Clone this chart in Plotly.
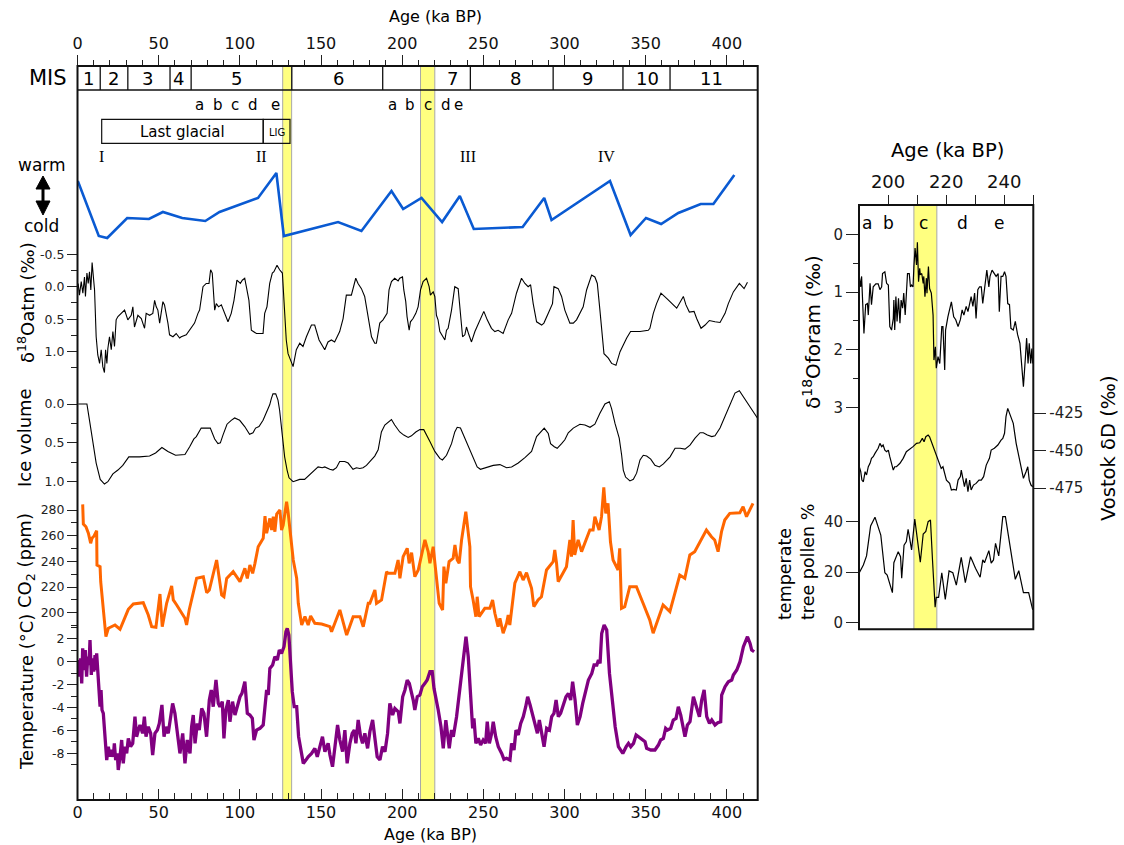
import plotly.graph_objects as go

# ---------------------------------------------------------------- data
# qualitative warm/cold index (no scale shown)
warm_age = [0.2, 13.1, 18.3, 30.6, 44.0, 52.6, 64.5, 78.7, 87.5, 111.2, 122.5, 127.1, 160.5, 174.9, 193.4,
            200.6, 211.9, 224.6, 235.5, 244.1, 274.2, 287.5, 292.0, 328.0, 340.7, 350.2, 359.5, 370.1,
            383.9, 391.7, 404.6]
warm_val = [5.9, 0.4, 0.2, 2.2, 2.1, 2.8, 2.2, 1.9, 2.8, 4.2, 6.7, 0.4, 1.8, 0.9, 4.9,
            3.1, 4.2, 1.8, 4.4, 1.1, 1.3, 4.2, 2.0, 5.9, 0.5, 2.2, 1.6, 2.7,
            3.6, 3.6, 6.5]

# d18O of atmospheric O2 (permil)
atm_age = [0.4, 1.2, 2.3, 3.3, 4.3, 4.9, 5.8, 6.6, 7.4, 8.2,
           9.0, 10.5, 11.5, 12.5, 13.6, 14.6, 15.6, 16.6, 17.3, 18.1,
           18.7, 19.7, 20.8, 21.8, 22.8, 23.8, 24.9, 26.9, 29.0, 31.0,
           33.1, 34.1, 35.1, 37.2, 39.3, 41.3, 42.3, 44.4, 46.4, 47.5,
           48.5, 49.5, 50.6, 52.6, 53.6, 55.7, 56.7, 58.8, 60.8, 62.9,
           63.9, 67.0, 70.1, 72.1, 74.2, 75.2, 77.3, 79.3, 81.0, 82.0,
           83.0, 84.5, 85.5, 86.9, 88.6, 90.6, 92.7, 94.7, 96.4, 98.2,
           100.3, 101.5, 103.0, 104.0, 105.6, 107.1, 110.2, 114.3, 115.3, 116.7,
           118.4, 120.0, 121.0, 122.9, 124.5, 126.2, 127.2, 128.6, 129.7, 131.1,
           132.8, 134.8, 136.9, 138.9, 141.0, 144.1, 146.1, 148.8, 152.3, 154.3,
           156.4, 158.4, 161.5, 163.6, 165.6, 168.7, 170.2, 171.4, 172.8, 174.9,
           176.9, 179.0, 181.1, 183.1, 184.1, 186.2, 188.2, 190.7, 191.9, 193.4,
           195.4, 197.5, 198.5, 200.2, 201.0, 202.2, 203.0, 204.3, 205.1, 206.7,
           208.4, 209.8, 211.3, 212.9, 215.0, 216.6, 217.4, 219.1, 220.1, 221.1,
           222.1, 223.2, 225.2, 226.3, 227.3, 228.3, 230.4, 232.4, 234.5, 235.5,
           237.2, 238.6, 239.6, 241.1, 242.7, 244.8, 247.8, 250.3, 252.4, 255.0,
           257.1, 259.1, 262.2, 265.3, 267.4, 270.4, 273.5, 275.6, 277.6, 279.1,
           280.7, 282.8, 285.9, 287.3, 290.0, 292.6, 293.5, 296.1, 298.2, 300.2,
           303.3, 305.4, 307.4, 311.5, 313.6, 316.7, 318.7, 320.2, 321.8, 322.9,
           324.3, 327.0, 329.0, 331.7, 334.2, 338.3, 340.7, 346.5, 351.6, 352.6,
           354.7, 356.7, 359.4, 362.9, 369.1, 373.2, 374.8, 376.9, 379.8, 381.4,
           384.1, 386.6, 389.2, 392.7, 395.8, 398.9, 400.9, 404.0, 407.7, 410.6,
           412.7]
atm_val = [-0.05, 0.13, -0.08, 0.10, -0.15, 0.15, -0.21, -0.05, -0.23, 0.05,
           -0.37, 0.05, 0.77, 1.05, 1.18, 0.97, 1.23, 1.32, 0.97, 1.18,
           0.95, 0.77, 0.97, 0.69, 0.92, 0.51, 0.46, 0.41, 0.36, 0.51,
           0.44, 0.31, 0.62, 0.44, 0.49, 0.64, 0.41, 0.44, 0.41, 0.21,
           0.31, 0.36, 0.56, 0.23, 0.28, 0.56, 0.74, 0.77, 0.72, 0.79,
           0.77, 0.74, 0.62, 0.56, 0.41, 0.36, 0.0, -0.05, -0.05, -0.26,
           -0.21, 0.36, 0.26, 0.31, 0.28, 0.41, 0.54, 0.41, 0.21, -0.10,
           -0.05, -0.10, -0.13, 0.0, 0.21, 0.67, 0.72, 0.72, 0.41, 0.31,
           -0.05, -0.21, -0.23, -0.33, -0.26, -0.21, 0.26, 0.82, 1.03, 1.13,
           1.23, 0.97, 0.87, 0.92, 0.77, 0.59, 0.59, 0.82, 0.97, 0.85,
           0.82, 0.85, 0.69, 0.49, 0.13, 0.13, 0.0, -0.13, -0.05, 0.03,
           0.15, 0.46, 0.77, 0.87, 0.87, 0.56, 0.51, 0.41, 0.05, -0.08,
           -0.13, -0.09, -0.13, -0.15, 0.05, 0.23, 0.46, 0.67, 0.54, 0.49,
           0.41, 0.31, 0.05, -0.08, -0.13, 0.0, 0.13, 0.08, 0.15, 0.44,
           0.51, 0.69, 0.77, 0.82, 0.67, 0.64, 0.36, 0.0, 0.03, 0.31,
           0.77, 0.74, 0.62, 0.74, 0.85, 0.69, 0.51, 0.38, 0.51, 0.64,
           0.69, 0.67, 0.72, 0.51, 0.41, 0.10, -0.13, -0.05, 0.0, -0.03,
           0.26, 0.54, 0.59, 0.56, 0.41, 0.26, 0.0, 0.03, 0.15, 0.36,
           0.56, 0.56, 0.51, 0.31, 0.05, -0.18, -0.15, -0.05, 0.36, 0.72,
           1.03, 1.10, 1.18, 1.21, 1.00, 0.79, 0.69, 0.69, 0.67, 0.64,
           0.41, 0.26, 0.10, 0.18, 0.33, 0.15, 0.28, 0.39, 0.38, 0.49,
           0.64, 0.59, 0.52, 0.54, 0.55, 0.41, 0.26, 0.08, -0.05, 0.03,
           -0.07]

# normalised ice volume
ice_age = [0.5, 5.8, 7.4, 9.5, 11.5, 14.0, 16.6, 18.7, 21.8, 24.9,
           27.9, 31.6, 38.2, 44.4, 48.1, 52.0, 55.7, 60.4, 66.2, 69.1,
           71.7, 73.2, 76.2, 81.8, 84.5, 86.5, 88.0, 89.6, 92.1, 94.7,
           96.8, 99.9, 103.0, 106.0, 108.1, 109.7, 111.8, 114.3, 116.9, 118.4,
           119.4, 120.4, 122.1, 123.5, 124.5, 125.6, 126.6, 127.6, 129.1, 130.3,
           132.8, 136.9, 139.9, 143.0, 146.1, 148.2, 150.8, 152.3, 155.4, 157.4,
           159.5, 161.5, 164.6, 166.7, 169.7, 171.8, 173.9, 175.9, 178.0, 180.0,
           183.1, 185.2, 187.2, 189.3, 191.3, 193.4, 195.4, 197.5, 198.5, 201.0,
           203.7, 205.7, 208.4, 210.9, 213.3, 217.0, 220.1, 223.2, 224.8, 227.3,
           230.4, 232.4, 233.9, 235.9, 238.6, 241.7, 244.1, 246.2, 248.2, 251.9,
           256.1, 260.2, 264.3, 267.4, 271.5, 275.6, 279.7, 282.8, 285.9, 287.5,
           290.0, 291.4, 293.7, 295.5, 298.2, 300.2, 302.3, 305.4, 309.5, 312.6,
           315.7, 318.7, 321.8, 324.9, 327.6, 329.0, 331.1, 333.7, 335.2, 336.2,
           337.6, 340.3, 342.4, 344.4, 346.5, 348.5, 350.6, 353.1, 355.7, 358.4,
           360.9, 365.0, 368.1, 371.2, 374.2, 377.3, 380.4, 383.5, 385.5, 388.0,
           390.7, 392.7, 395.8, 398.9, 402.0, 405.0, 407.7, 410.2, 414.3, 418.8]
ice_val = [0.0, 0.0, 0.21, 0.51, 0.76, 0.97, 1.03, 1.0, 0.90, 0.85,
           0.79, 0.68, 0.68, 0.67, 0.63, 0.56, 0.61, 0.66, 0.65, 0.55,
           0.45, 0.42, 0.31, 0.31, 0.45, 0.51, 0.50, 0.40, 0.26, 0.21,
           0.18, 0.21, 0.29, 0.39, 0.37, 0.31, 0.29, 0.21, 0.09, 0.01,
           -0.07, -0.13, -0.13, -0.05, 0.08, 0.31, 0.51, 0.68, 0.85, 0.95,
           1.0, 0.97, 0.97, 0.91, 0.84, 0.81, 0.82, 0.81, 0.84, 0.85,
           0.82, 0.74, 0.74, 0.76, 0.84, 0.82, 0.83, 0.82, 0.79, 0.74,
           0.67, 0.59, 0.36, 0.27, 0.23, 0.20, 0.27, 0.33, 0.36, 0.40,
           0.43, 0.41, 0.36, 0.33, 0.33, 0.48, 0.61, 0.70, 0.72, 0.66,
           0.51, 0.36, 0.30, 0.31, 0.44, 0.59, 0.72, 0.81, 0.84, 0.82,
           0.79, 0.78, 0.82, 0.81, 0.76, 0.69, 0.61, 0.42, 0.34, 0.31,
           0.38, 0.51, 0.55, 0.57, 0.51, 0.46, 0.37, 0.31, 0.26, 0.27,
           0.30, 0.26, 0.12, 0.0, -0.03, 0.06, 0.25, 0.44, 0.66, 0.85,
           0.94, 0.99, 0.97, 0.89, 0.72, 0.66, 0.67, 0.71, 0.79, 0.81,
           0.77, 0.68, 0.57, 0.57, 0.58, 0.53, 0.44, 0.37, 0.37, 0.40,
           0.42, 0.41, 0.31, 0.16, 0.01, -0.14, -0.17, -0.09, 0.03, 0.18]

# atmospheric CO2 (ppm)
co2_age = [3.2, 3.6, 5.2, 6.7, 8.1, 8.9, 10.2, 11.8, 12.0, 13.9,
           14.3, 15.5, 17.5, 19.0, 23.1, 26.2, 31.3, 34.4, 40.5, 43.6,
           45.7, 48.3, 49.8, 50.8, 52.2, 54.9, 58.0, 59.0, 61.1, 66.2,
           67.2, 68.8, 73.4, 75.4, 77.5, 79.6, 81.2, 85.7, 87.7, 88.8,
           90.2, 91.9, 95.9, 100.1, 103.1, 104.6, 106.2, 107.9, 109.3, 111.3,
           114.4, 115.5, 116.5, 117.5, 118.5, 119.6, 120.6, 121.6, 122.7, 124.7,
           125.7, 126.7, 127.8, 128.8, 129.8, 130.8, 132.9, 135.0, 136.0, 138.1,
           140.1, 142.1, 143.6, 146.2, 150.4, 155.5, 156.5, 161.6, 165.8, 169.8,
           174.0, 176.0, 179.1, 180.1, 183.2, 184.2, 187.3, 190.4, 191.4, 195.5,
           197.5, 198.6, 200.6, 203.1, 204.3, 205.8, 206.8, 207.8, 209.9, 211.9,
           214.0, 216.0, 217.1, 219.1, 220.8, 222.8, 224.9, 225.7, 226.9, 228.9,
           231.4, 232.5, 233.9, 235.1, 236.6, 239.2, 241.7, 242.1, 243.7, 245.4,
           246.2, 247.4, 250.9, 254.0, 255.7, 257.1, 259.1, 260.2, 262.2, 264.3,
           265.3, 266.3, 269.4, 272.5, 274.5, 276.6, 279.7, 281.1, 283.7, 285.8,
           288.9, 293.0, 294.0, 295.1, 296.1, 301.2, 303.3, 304.3, 305.3, 306.3,
           308.4, 310.5, 315.6, 317.6, 318.7, 321.3, 322.8, 324.2, 325.4, 326.8,
           328.3, 329.9, 333.0, 334.0, 335.1, 337.1, 340.2, 344.3, 348.4, 352.5,
           354.6, 360.7, 364.9, 371.0, 374.1, 377.2, 380.2, 387.4, 390.5, 392.5,
           394.6, 396.7, 398.7, 401.8, 408.0, 410.0, 412.1, 416.1]
co2_val = [284.4, 269.1, 267.0, 261.9, 254.1, 258.0, 259.8, 263.9, 237.2, 235.9,
           224.2, 207.4, 181.4, 188.0, 190.5, 187.2, 202.7, 206.9, 207.9, 198.3,
           189.2, 188.7, 203.5, 214.6, 189.2, 207.4, 220.9, 210.0, 206.1, 195.7,
           190.5, 202.2, 226.9, 227.6, 228.1, 215.6, 217.7, 241.1, 223.0, 213.9,
           212.5, 226.8, 232.0, 224.2, 234.6, 226.8, 237.2, 230.7, 238.5, 251.4,
           258.0, 275.3, 261.9, 267.0, 273.5, 264.4, 274.8, 263.1, 276.9, 280.0,
           264.4, 268.3, 280.0, 286.5, 277.4, 267.0, 241.1, 226.9, 207.4, 190.5,
           197.0, 190.5, 197.5, 191.8, 191.3, 189.2, 185.3, 202.2, 182.7, 197.0,
           197.0, 189.2, 207.4, 207.4, 217.7, 207.4, 210.0, 232.0, 230.7, 230.7,
           241.1, 226.9, 243.7, 250.2, 238.5, 246.8, 237.2, 228.1, 233.3, 243.7,
           256.7, 247.6, 238.5, 251.4, 233.3, 207.4, 202.2, 235.9, 223.0, 239.8,
           242.4, 252.8, 241.1, 238.5, 256.7, 278.7, 251.4, 220.3, 210.0, 197.0,
           212.5, 197.0, 203.5, 203.5, 210.0, 199.6, 189.2, 195.7, 184.1, 191.8,
           198.3, 190.5, 223.0, 232.0, 225.5, 231.2, 219.1, 204.8, 210.0, 212.5,
           233.3, 239.8, 248.9, 238.5, 224.2, 235.9, 256.7, 243.7, 272.2, 245.0,
           256.7, 247.6, 264.4, 264.4, 274.8, 264.4, 274.8, 297.7, 277.4, 285.2,
           255.3, 241.1, 233.3, 250.2, 203.5, 204.8, 220.3, 220.3, 207.4, 194.4,
           184.1, 206.1, 200.9, 229.4, 226.9, 245.0, 247.6, 264.4, 259.2, 256.7,
           247.6, 263.1, 272.2, 277.4, 277.9, 282.6, 274.8, 285.2]

# temperature anomaly (deg C)
temp_age = [0.5, 1.1, 1.9, 2.6, 3.2, 4.0, 4.8, 5.6, 6.3, 7.1,
            7.7, 8.5, 9.1, 10.0, 10.8, 11.4, 11.8, 12.4, 13.0, 13.9,
            14.5, 15.1, 15.9, 16.9, 18.0, 19.0, 20.0, 21.0, 22.1, 22.7,
            23.5, 24.5, 25.1, 26.2, 27.2, 28.2, 29.2, 30.3, 31.3, 32.7,
            34.0, 35.4, 36.4, 37.5, 38.5, 40.1, 41.2, 42.2, 43.6, 45.1,
            46.3, 47.7, 49.2, 50.4, 52.0, 53.3, 54.5, 55.9, 57.4, 58.6,
            60.0, 61.5, 63.1, 64.8, 66.2, 67.6, 69.3, 70.3, 71.3, 72.4,
            73.8, 75.0, 76.5, 77.9, 79.5, 81.2, 82.4, 83.6, 85.3, 86.7,
            87.7, 89.2, 90.2, 91.4, 92.9, 93.9, 95.5, 97.0, 98.4, 100.1,
            101.3, 103.1, 104.6, 106.2, 107.7, 108.7, 110.3, 112.4, 114.4, 116.5,
            117.5, 118.5, 120.2, 121.6, 123.1, 124.3, 125.7, 127.2, 128.4, 129.2,
            130.2, 131.3, 132.3, 133.5, 135.0, 136.2, 137.6, 139.1, 140.7, 142.1,
            144.2, 146.2, 147.7, 149.3, 150.9, 152.4, 154.4, 155.5, 157.1, 158.6,
            160.2, 161.6, 163.3, 164.7, 166.1, 167.8, 169.2, 170.5, 171.5, 172.9,
            174.4, 175.6, 177.0, 178.7, 180.1, 181.8, 183.2, 184.6, 186.3, 187.9,
            189.4, 191.0, 192.4, 194.1, 195.5, 197.6, 198.6, 200.3, 201.7, 203.1,
            204.4, 205.8, 206.8, 207.8, 209.3, 210.9, 212.4, 214.0, 215.4, 217.1,
            218.5, 219.6, 220.8, 222.2, 223.9, 225.3, 226.9, 228.0, 229.0, 230.4,
            231.5, 233.5, 235.6, 237.6, 239.3, 240.7, 242.1, 243.4, 244.2, 245.4,
            246.9, 248.3, 249.9, 251.4, 252.4, 253.7, 255.1, 256.1, 257.6, 259.2,
            261.3, 262.7, 264.3, 266.4, 267.4, 268.9, 270.1, 271.5, 273.0, 274.6,
            276.1, 277.3, 278.8, 280.4, 281.9, 283.3, 284.5, 285.9, 287.4, 289.0,
            290.7, 292.1, 293.5, 294.8, 296.2, 297.6, 299.3, 300.9, 302.4, 303.8,
            305.0, 306.5, 307.9, 309.6, 311.2, 312.7, 314.7, 316.8, 318.2, 319.9,
            320.9, 321.9, 322.9, 324.4, 326.0, 327.7, 329.5, 331.2, 333.2, 335.9,
            338.0, 339.4, 340.8, 342.5, 344.1, 345.5, 347.6, 349.6, 350.6, 353.1,
            355.7, 357.8, 359.2, 360.9, 362.3, 363.5, 365.4, 367.0, 368.7, 370.1,
            371.6, 372.8, 374.2, 375.7, 377.3, 379.4, 381.4, 383.1, 384.5, 386.0,
            387.6, 389.3, 390.7, 392.7, 394.4, 396.2, 396.8, 398.9, 400.9, 403.0,
            404.0, 406.1, 408.1, 410.2, 412.7, 414.3, 415.3, 416.8]
temp_val = [0.15, -1.31, 0.29, -1.89, 1.16, -0.73, 1.02, -1.31, 0.44, -0.29,
            1.89, -1.16, 0.29, -0.87, 0.58, -0.73, 0.73, -0.44, -2.18, -3.93,
            -2.47, -4.22, -4.51, -6.84, -8.59, -7.42, -8.30, -7.71, -8.30, -7.13,
            -8.59, -8.01, -9.46, -8.30, -6.84, -8.88, -7.42, -8.01, -6.70, -7.42,
            -7.13, -4.80, -6.55, -5.97, -5.53, -6.26, -4.80, -6.55, -5.68, -6.26,
            -8.15, -6.26, -5.97, -5.39, -3.78, -6.55, -5.68, -6.26, -4.66, -3.64,
            -4.51, -5.97, -8.01, -6.26, -8.88, -6.84, -8.01, -5.68, -4.66, -7.13,
            -5.39, -5.97, -4.08, -4.51, -6.55, -3.35, -2.47, -3.93, -1.60, -3.64,
            -3.93, -3.49, -6.70, -4.22, -3.35, -5.24, -3.49, -4.66, -3.93, -3.06,
            -2.77, -1.75, -4.51, -4.66, -4.95, -6.84, -5.97, -5.82, -5.53, -2.47,
            -2.91, -0.58, -0.29, 0.44, 0.15, 1.02, 0.73, 1.31, 2.62, 2.91,
            2.33, 0.0, -2.62, -3.93, -3.93, -6.55, -7.71, -8.88, -8.59, -8.30,
            -8.01, -7.57, -8.30, -7.42, -6.55, -7.86, -7.13, -8.15, -9.17, -7.42,
            -5.53, -6.84, -7.86, -5.97, -8.88, -7.13, -6.26, -5.97, -7.13, -5.09,
            -6.55, -7.13, -6.26, -7.57, -6.11, -5.09, -6.84, -8.30, -8.59, -7.42,
            -7.86, -6.26, -3.64, -4.66, -4.08, -4.37, -5.39, -3.06, -2.47, -1.60,
            -1.89, -2.62, -3.35, -4.22, -3.06, -2.91, -2.18, -1.89, -1.60, -0.87,
            -0.87, -2.33, -3.06, -4.22, -5.68, -7.57, -5.10, -6.55, -7.57, -5.97,
            -6.55, -4.80, -2.47, 0.15, 2.18, 0.44, -3.35, -5.82, -4.95, -7.13,
            -6.70, -7.28, -6.84, -7.13, -5.24, -7.13, -6.26, -5.24, -6.55, -7.42,
            -8.01, -8.53, -8.44, -8.59, -7.13, -7.71, -5.97, -6.40, -5.39, -4.80,
            -3.93, -3.06, -3.78, -4.66, -5.68, -6.26, -5.09, -6.26, -7.42, -5.82,
            -5.97, -4.80, -4.51, -3.35, -4.80, -4.51, -3.78, -3.06, -2.77, -3.35,
            -1.75, -3.35, -5.53, -4.80, -3.64, -2.77, -1.60, -1.02, -0.29, -0.29,
            0.15, -0.15, 2.47, 3.20, 2.77, -1.02, -3.64, -5.68, -7.42, -8.01,
            -7.42, -7.13, -7.42, -7.13, -6.40, -6.55, -6.70, -6.99, -7.57, -7.71,
            -7.71, -7.28, -6.84, -6.70, -5.82, -5.97, -5.82, -5.09, -4.95, -3.93,
            -4.66, -5.68, -6.55, -5.53, -5.24, -3.06, -3.93, -4.80, -3.35, -2.47,
            -4.80, -5.39, -5.10, -5.53, -5.33, -5.24, -2.91, -2.18, -1.75, -1.60,
            -1.16, -0.73, 0.0, 1.31, 2.18, 1.60, 1.02, 0.87]

# MIS 7 detail: benthic foram d18O, Vostok dD, temperate tree pollen
foram_age = [190.1, 190.6, 190.9, 191.3, 191.7, 192.3, 192.9, 193.2, 193.8, 194.3,
             194.9, 195.8, 196.6, 197.2, 197.8, 198.1, 198.9, 199.5, 200.1, 200.6,
             201.2, 201.8, 202.0, 202.3, 202.7, 203.1, 203.6, 204.1, 204.5, 205.0,
             205.4, 205.9, 206.3, 206.7, 207.3, 207.7, 208.1, 208.6, 208.9, 209.3,
             209.8, 210.1, 210.5, 210.9, 211.1, 211.6, 212.1, 212.3, 212.7, 213.2,
             213.4, 213.9, 214.3, 214.9, 215.5, 215.8, 216.3, 216.6, 217.2, 217.8,
             218.5, 218.9, 219.5, 219.8, 220.6, 221.8, 222.6, 223.3, 224.1, 224.9,
             225.5, 226.1, 226.9, 227.5, 228.1, 228.6, 229.2, 229.8, 230.3, 230.9,
             231.5, 232.1, 232.6, 233.2, 234.0, 234.7, 235.1, 235.8, 236.6, 237.2,
             237.9, 238.3, 238.9, 239.5, 240.1, 240.6, 241.2, 241.8, 242.3, 243.1,
             243.8, 244.6, 245.4, 246.1, 246.6, 247.3, 247.7, 248.2, 248.6, 249.1,
             249.5, 249.8]
foram_val = [0.73, 0.91, 0.73, 1.43, 1.72, 1.22, 1.20, 1.40, 0.85, 1.22,
             0.91, 0.86, 0.86, 0.96, 0.91, 0.68, 0.65, 0.85, 0.88, 1.60,
             1.66, 1.46, 1.14, 1.66, 1.08, 1.51, 1.11, 1.54, 1.14, 1.28,
             1.02, 1.40, 0.91, 0.68, 0.68, 0.91, 0.88, 0.91, 0.56, 0.24,
             0.53, 0.14, 0.82, 0.59, 0.70, 0.68, 0.85, 0.73, 1.08, 0.76,
             1.02, 0.56, 0.94, 1.02, 1.40, 2.18, 1.95, 2.32, 2.12, 2.24,
             1.60, 1.60, 2.35, 1.66, 1.43, 1.17, 1.43, 1.48, 1.60, 1.48,
             1.31, 1.40, 1.25, 1.34, 1.20, 1.08, 1.25, 1.02, 1.46, 0.96,
             0.91, 0.91, 1.20, 0.91, 0.62, 0.91, 0.73, 0.62, 0.68, 0.73,
             0.68, 1.34, 0.73, 0.73, 0.65, 0.73, 1.20, 1.22, 1.63, 1.66,
             1.51, 1.74, 1.89, 2.35, 2.64, 2.12, 1.80, 2.24, 1.89, 2.24,
             1.98, 2.24]

vd_age = [190.1, 190.6, 191.0, 191.5, 192.1, 192.6, 193.2, 193.8, 194.3, 194.9,
          195.5, 196.1, 196.6, 197.2, 197.8, 198.3, 198.9, 199.5, 200.1, 200.6,
          201.2, 201.8, 202.3, 202.9, 204.1, 205.2, 206.3, 207.5, 208.6, 209.8,
          210.9, 211.8, 212.4, 213.0, 213.8, 214.3, 214.9, 215.5, 216.1, 216.6,
          217.2, 217.8, 218.3, 218.9, 219.5, 220.1, 221.2, 221.8, 222.6, 223.5,
          224.1, 224.9, 225.2, 225.8, 226.3, 226.9, 227.5, 228.1, 228.6, 229.4,
          230.3, 231.3, 232.1, 232.9, 233.8, 234.9, 235.5, 236.6, 237.8, 238.9,
          239.5, 240.1, 240.6, 241.2, 242.3, 243.1, 244.1, 245.0, 245.8, 246.6,
          247.5, 248.1, 248.6, 249.2, 249.8]
vd_val = [-460.7, -464.0, -469.6, -470.7, -464.0, -466.2, -460.7, -458.4, -455.1, -454.0,
          -451.8, -449.6, -448.4, -445.1, -447.3, -446.2, -449.6, -450.7, -449.6, -454.0,
          -458.4, -462.9, -460.7, -460.7, -458.4, -455.1, -450.7, -449.1, -447.3, -445.1,
          -444.7, -441.8, -444.0, -440.7, -439.6, -440.7, -444.0, -447.3, -450.7, -452.9,
          -456.2, -459.6, -461.8, -460.7, -465.1, -469.6, -471.8, -476.2, -475.8, -476.2,
          -469.6, -467.3, -462.9, -469.6, -474.0, -468.4, -477.3, -469.6, -476.2, -472.9,
          -471.8, -469.6, -469.6, -467.3, -459.6, -455.1, -449.6, -448.4, -446.2, -442.9,
          -441.8, -438.4, -427.3, -421.8, -427.3, -431.8, -445.1, -452.9, -460.7, -468.4,
          -464.0, -460.7, -469.6, -472.9, -474.0]

pol_age = [190.1, 191.5, 192.6, 194.0, 195.5, 196.6, 197.5, 198.9, 199.7, 201.5,
           202.0, 203.5, 204.3, 204.7, 205.5, 206.3, 206.9, 207.5, 208.1, 209.2,
           210.3, 211.1, 212.1, 213.0, 213.8, 214.6, 215.3, 216.2, 216.6, 217.4,
           218.5, 219.7, 221.0, 222.3, 223.5, 225.2, 226.6, 228.4, 230.1, 231.7,
           232.6, 233.2, 234.7, 235.5, 236.3, 237.0, 238.1, 239.5, 240.4, 241.8,
           243.8, 245.0, 245.8, 246.6, 248.4, 249.8]
pol_val = [19.7, 22.8, 26.4, 38.3, 41.8, 38.0, 34.7, 19.7, 18.8, 11.8,
           23.7, 28.1, 26.1, 17.5, 30.7, 32.1, 37.0, 33.0, 28.8, 41.0,
           31.4, 23.9, 35.1, 36.1, 40.0, 40.7, 24.8, 6.0, 9.9, 9.9,
           19.7, 9.1, 20.4, 19.7, 14.8, 25.8, 15.8, 26.1, 21.5, 17.9,
           24.8, 23.7, 28.5, 23.5, 24.8, 31.4, 26.4, 42.0, 42.0, 31.4,
           17.1, 20.5, 15.5, 11.8, 11.8, 4.9]

# stratigraphy
mis_bounds = [14, 31, 57, 70, 132, 188, 242, 293, 336, 365]
mis_names = ["1", "2", "3", "4", "5", "6", "7", "8", "9", "10", "11"]
mis_label_age = [6.5, 21.9, 43.4, 62.5, 98.2, 161, 231, 270, 314.3, 351, 390.5]
sub5_age = [75.4, 86.3, 97.0, 108.0, 122.2]
sub7_age = [193.8, 204.7, 215.6, 226.7, 234.9]
sub_names = ["a", "b", "c", "d", "e"]
term_names = ["I", "II", "III", "IV"]
term_age = [14.9, 113.4, 240.6, 325.9]
glacial_span = [14.9, 114.4]
lig_span = [114.4, 130.9]
highlight_main = [(126.4, 131.9), (211.3, 220.1)]
highlight_zoom = (208.9, 216.8)
sub7_zoom_age = [192.6, 200.3, 212.1, 225.6, 238.3]

# ---------------------------------------------------------------- layout helpers
W, H = 1124, 845
FONT = "DejaVu Sans"


def px(x):
    return x / W


def py(y):
    return 1 - y / H


L0, L1, TOP, BOT = 77.5, 757.7, 66, 800
R0, R1, RTOP, RBOT = 859, 1033.3, 205, 629.3

fig = go.Figure()
fig.add_trace(go.Scatter(x=warm_age, y=warm_val, xaxis="x2", yaxis="y",
                         mode="lines", line=dict(color="#0a5ad2", width=2.6)))
fig.add_trace(go.Scatter(x=atm_age, y=atm_val, xaxis="x", yaxis="y2",
                         mode="lines", line=dict(color="black", width=1.1)))
fig.add_trace(go.Scatter(x=ice_age, y=ice_val, xaxis="x", yaxis="y3",
                         mode="lines", line=dict(color="black", width=1.1)))
fig.add_trace(go.Scatter(x=co2_age, y=co2_val, xaxis="x", yaxis="y4",
                         mode="lines", line=dict(color="#ff6600", width=3)))
fig.add_trace(go.Scatter(x=temp_age, y=temp_val, xaxis="x", yaxis="y5",
                         mode="lines", line=dict(color="#800080", width=3.3)))
fig.add_trace(go.Scatter(x=foram_age, y=foram_val, xaxis="x3", yaxis="y6",
                         mode="lines", line=dict(color="black", width=1.2)))
fig.add_trace(go.Scatter(x=vd_age, y=vd_val, xaxis="x3", yaxis="y7",
                         mode="lines", line=dict(color="black", width=1.2)))
fig.add_trace(go.Scatter(x=pol_age, y=pol_val, xaxis="x3", yaxis="y8",
                         mode="lines", line=dict(color="black", width=1.2)))

tickfont_l = dict(family=FONT, size=12.5, color="#222")
tickfont_r = dict(family=FONT, size=15, color="#222")


def left_y(top_px, bot_px, rng, vals, text, minor_vals):
    return dict(domain=[py(bot_px), py(top_px)], range=rng, anchor="x", automargin=False,
                showgrid=False, zeroline=False, showline=False,
                tickmode="array", tickvals=vals, ticktext=text,
                ticks="outside", ticklen=9.5, tickwidth=1.2, tickcolor="#222",
                tickfont=tickfont_l,
                minor=dict(tickmode="array", tickvals=minor_vals, ticks="outside",
                           ticklen=6, tickwidth=1.2, tickcolor="#222", showgrid=False))


def right_y(top_px, bot_px, rng, vals, text, minor_vals=None, side="left"):
    d = dict(domain=[py(bot_px), py(top_px)], range=rng, anchor="x3", side=side,
             automargin=False, showgrid=False, zeroline=False, showline=False,
             tickmode="array", tickvals=vals, ticktext=text,
             ticks="outside", ticklen=12, tickwidth=1.2, tickcolor="#222",
             tickfont=tickfont_r)
    if minor_vals:
        d["minor"] = dict(tickmode="array", tickvals=minor_vals, ticks="outside",
                          ticklen=5, tickwidth=1.2, tickcolor="#222", showgrid=False)
    return d


fig.update_layout(
    width=W, height=H, margin=dict(l=0, r=0, t=0, b=0, autoexpand=False),
    paper_bgcolor="white", plot_bgcolor="rgba(0,0,0,0)", showlegend=False,
    font=dict(family=FONT, color="black"),
    xaxis=dict(domain=[px(L0), px(L1)], range=[0, 419], anchor="free", position=py(BOT),
               side="bottom", automargin=False, showgrid=False, zeroline=False, showline=False,
               tick0=0, dtick=50, ticks="inside", ticklen=11, tickwidth=1.3, tickcolor="#222",
               ticklabelstandoff=1,
               tickfont=dict(family=FONT, size=16, color="#111"),
               minor=dict(dtick=10, tick0=0, ticks="inside", ticklen=7, tickwidth=1.2,
                          tickcolor="#222", showgrid=False)),
    xaxis2=dict(overlaying="x", domain=[px(L0), px(L1)], range=[0, 419], anchor="free",
                position=py(TOP), side="top", automargin=False, showgrid=False,
                zeroline=False, showline=False,
                tick0=0, dtick=50, ticks="outside", ticklen=11, tickwidth=1.3, tickcolor="#222",
                tickfont=dict(family=FONT, size=16, color="#111"),
                minor=dict(dtick=10, tick0=0, ticks="outside", ticklen=6, tickwidth=1.2,
                           tickcolor="#222", showgrid=False)),
    xaxis3=dict(domain=[px(R0), px(R1)], range=[190, 250], anchor="free", position=py(RTOP),
                side="top", automargin=False, showgrid=False, zeroline=False, showline=False,
                tickmode="array", tickvals=[200, 220, 240], ticktext=["200", "220", "240"],
                ticks="outside", ticklen=10, tickwidth=1.3, tickcolor="#222",
                tickfont=dict(family=FONT, size=18, color="#111"),
                minor=dict(tickmode="array", tickvals=[210, 230, 250], ticks="outside",
                           ticklen=10, tickwidth=1.3, tickcolor="#222", showgrid=False)),
    yaxis=dict(domain=[py(250), py(160)], range=[-1, 8], anchor="x2", visible=False,
               automargin=False),
    yaxis2=left_y(245, 378, [1.4046, -0.6415], [-0.5, 0, 0.5, 1.0],
                  ["-0.5", "0.0", "0.5", "1.0"], [-0.25, 0.25, 0.75, 1.25]),
    yaxis3=left_y(385, 490, [1.1068, -0.2445], [0, 0.5, 1.0],
                  ["0.0", "0.5", "1.0"], [0.25, 0.75]),
    yaxis4=left_y(480, 640, [178.83, 303.35], [200, 220, 240, 260, 280],
                  ["200", "220", "240", "260", "280"], [190, 210, 230, 250, 270]),
    yaxis5=left_y(620, 798, [-11.904, 3.642], [2, 0, -2, -4, -6, -8],
                  ["2", "0", "-2", "-4", "-6", "-8"], [3, 1, -1, -3, -5, -7, -9]),
    yaxis6=right_y(207, 412, [3.0797, -0.4731], [0, 1, 2, 3], ["0", "1", "2", "3"],
                   [0.5, 1.5, 2.5]),
    yaxis7=right_y(400, 500, [-482.87, -416.2], [-425, -450, -475],
                   ["-425", "-450", "-475"], side="right"),
    yaxis8=right_y(505, 627, [-1.869, 46.64], [0, 20, 40], ["0", "20", "40"]),
)

shapes = []
# highlighted interglacial windows
for a0, a1 in highlight_main:
    shapes.append(dict(type="rect", xref="x", yref="paper", x0=a0, x1=a1,
                       y0=py(BOT), y1=py(TOP), fillcolor="#ffff80",
                       line=dict(color="#a8a8a8", width=1), layer="below"))
shapes.append(dict(type="rect", xref="x3", yref="paper", x0=highlight_zoom[0], x1=highlight_zoom[1],
                   y0=py(RBOT), y1=py(RTOP), fillcolor="#ffff80",
                   line=dict(color="#a8a8a8", width=1), layer="below"))
# frames
shapes.append(dict(type="rect", xref="paper", yref="paper", x0=px(L0), x1=px(L1),
                   y0=py(BOT), y1=py(TOP), line=dict(color="#111", width=2)))
shapes.append(dict(type="rect", xref="paper", yref="paper", x0=px(R0), x1=px(R1),
                   y0=py(RBOT), y1=py(RTOP), line=dict(color="#111", width=2)))
# MIS strip
shapes.append(dict(type="line", xref="paper", yref="paper", x0=px(L0), x1=px(L1),
                   y0=py(90), y1=py(90), line=dict(color="#111", width=1.5)))
for b in mis_bounds:
    shapes.append(dict(type="line", xref="x", yref="paper", x0=b, x1=b,
                       y0=py(90), y1=py(TOP), line=dict(color="#111", width=1.3)))
# last glacial / LIG boxes
for a0, a1 in (glacial_span, lig_span):
    shapes.append(dict(type="rect", xref="x", yref="paper", x0=a0, x1=a1,
                       y0=py(143.3), y1=py(119.3), line=dict(color="#111", width=1.2)))
# warm / cold double arrow
shapes.append(dict(type="line", xref="paper", yref="paper", x0=px(43), x1=px(43),
                   y0=py(202), y1=py(188), line=dict(color="black", width=3)))
head_up = "M {} {} L {} {} L {} {} Z".format(px(36), py(189), px(50), py(189), px(43), py(176))
head_dn = "M {} {} L {} {} L {} {} Z".format(px(36), py(201), px(50), py(201), px(43), py(215))
for p in (head_up, head_dn):
    shapes.append(dict(type="path", xref="paper", yref="paper", path=p,
                       fillcolor="black", line=dict(color="black", width=1)))
fig.update_layout(shapes=shapes)

ann = []


def txt(x, y, s, size, xref="paper", angle=0, family=FONT, **kw):
    ann.append(dict(x=x, y=y, xref=xref, yref="paper", text=s, showarrow=False,
                    textangle=angle, xanchor="center", yanchor="middle",
                    font=dict(family=family, size=size, color="black"), **kw))


txt(px(436), py(16), "Age (ka BP)", 16)
txt(px(430), py(834), "Age (ka BP)", 16)
txt(px(48), py(78), "MIS", 21)
for name, a in zip(mis_names, mis_label_age):
    txt(a, py(78), name, 18, xref="x")
for name, a in zip(sub_names, sub5_age):
    txt(a, py(105), name, 15, xref="x")
for name, a in zip(sub_names, sub7_age):
    txt(a, py(105), name, 15, xref="x")
txt(sum(glacial_span) / 2, py(131.5), "Last glacial", 15, xref="x")
txt(sum(lig_span) / 2, py(132.5), "LIG", 10, xref="x")
for name, a in zip(term_names, term_age):
    txt(a, py(156), name, 16, xref="x", family="Liberation Serif")
txt(px(42), py(165), "warm", 17)
txt(px(41), py(226), "cold", 17)

txt(px(26), py(303), "δ<sup>18</sup>Oatm (‰)", 18, angle=-90)
txt(px(25), py(438), "Ice volume", 18, angle=-90)
txt(px(26), py(560), "CO<sub>2</sub> (ppm)", 18, angle=-90)
txt(px(26), py(692), "Temperature (°C)", 18, angle=-90)

txt(px(948), py(151), "Age (ka BP)", 19.5)
for name, a in zip(sub_names, sub7_zoom_age):
    txt(a, py(222.7), name, 17, xref="x3")
txt(px(812), py(332), "δ<sup>18</sup>Oforam (‰)", 20, angle=-90)
txt(px(796), py(562), "temperate<br>tree pollen %", 17.5, angle=-90, align="left")
txt(px(1108), py(448), "Vostok δD (‰)", 19.5, angle=-90)

fig.update_layout(annotations=ann)
fig.write_html("out.html")
